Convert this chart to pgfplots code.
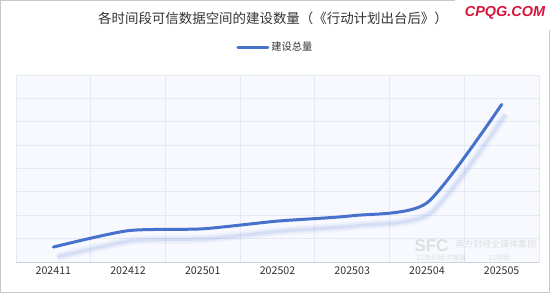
\documentclass[border=0pt]{standalone}
\usepackage{pgfplots}
\pgfplotsset{compat=1.18}
\usepackage{fontspec}
\setmainfont{Noto Sans CJK SC}
\newfontfamily\wmfont{Liberation Sans}
\definecolor{linec}{RGB}{70,114,203}
\definecolor{bgc}{RGB}{247,249,254}
\definecolor{gridc}{RGB}{228,233,245}
\definecolor{txt}{RGB}{51,51,51}
\definecolor{framec}{RGB}{200,200,200}
\definecolor{wmred}{RGB}{214,20,60}
\definecolor{axc}{RGB}{205,208,215}
\begin{document}
\begin{tikzpicture}[x=1bp,y=1bp]
\useasboundingbox (0,0) rectangle (555,293);
\fill[white] (0,0) rectangle (555,293);
\draw[framec, line width=1bp] (0.5,0.5) rectangle (549,292.5);
\begin{axis}[
  at={(16bp,31bp)}, anchor=south west, scale only axis,
  width=523bp, height=187bp,
  xmin=-0.5, xmax=6.5, ymin=0, ymax=8,
  xtick={0,...,6},
  xticklabels={202411,202412,202501,202502,202503,202504,202505},
  minor xtick={0.5,1.5,...,5.5},
  xminorgrids, minor grid style={gridc, line width=0.8bp},
  ytick={1,...,7}, yticklabels={},
  ymajorgrids, major grid style={gridc, line width=0.8bp},
  major tick length=0pt, minor tick length=0pt,
  axis line style={gridc, line width=0.8bp},
  axis background/.style={fill=bgc},
  xticklabel style={font=\fontsize{10.7}{12}\selectfont, text=txt, yshift=-1bp},
  legend style={at={(rel axis cs:0.496,1.148)}, anchor=center, draw=none, fill=none,
    font=\fontsize{10.3}{12}\selectfont, text=txt, inner sep=0pt,
    /tikz/every even column/.append style={column sep=0pt}},
  legend image code/.code={\draw[line width=3bp, linec] (0bp,0bp) -- (30bp,0bp);},
  legend cell align=left,
]
% shadow
\addplot[smooth, tension=0.4, line width=9bp, linec, opacity=0.04, xshift=4bp, yshift=-10bp, forget plot]
  coordinates {(0,0.64) (1,1.34) (2,1.42) (3,1.75) (4,1.98) (5,2.53) (6,6.74)};
\addplot[smooth, tension=0.4, line width=6bp, linec, opacity=0.06, xshift=4bp, yshift=-10bp, forget plot]
  coordinates {(0,0.64) (1,1.34) (2,1.42) (3,1.75) (4,1.98) (5,2.53) (6,6.74)};
\addplot[smooth, tension=0.4, line width=3bp, linec, opacity=0.10, xshift=4bp, yshift=-10bp, forget plot]
  coordinates {(0,0.64) (1,1.34) (2,1.42) (3,1.75) (4,1.98) (5,2.53) (6,6.74)};
% main line
\addplot[smooth, tension=0.4, line width=3bp, linec, line cap=round]
  coordinates {(0,0.64) (1,1.34) (2,1.42) (3,1.75) (4,1.98) (5,2.53) (6,6.74)};
\addlegendentry{建设总量}
\draw[axc, line width=1bp] (axis cs:-0.5,0) -- (axis cs:6.5,0);
\end{axis}
% title
\node[text=txt, font=\fontsize{13.5}{15}\selectfont] at (273,275) {各时间段可信数据空间的建设数量（《行动计划出台后》）};
% watermarks
\fill[white] (455,263) rectangle (555,293);
\node[text=wmred, font=\wmfont\bfseries\itshape\fontsize{14.5}{16}\selectfont] at (505,280) {CPQG.COM};
\node[text=gray, opacity=0.22, font=\wmfont\bfseries\fontsize{17}{18}\selectfont, anchor=west] at (411,47) {SFC};
\node[text=gray, opacity=0.22, font=\fontsize{9}{10}\selectfont, anchor=west] at (452,49) {南方财经全媒体集团};
\node[text=gray, opacity=0.22, font=\fontsize{7}{8}\selectfont, anchor=west] at (413,35) {21世纪经济报道};
\node[text=gray, opacity=0.22, font=\fontsize{7}{8}\selectfont, anchor=west] at (485,35) {21财经};
\end{tikzpicture}
\end{document}
